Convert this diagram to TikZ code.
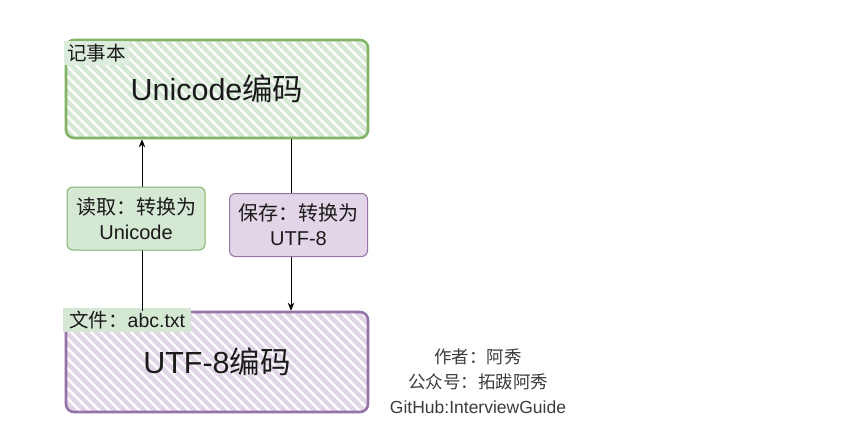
\documentclass[tikz,border=0pt]{standalone}
\usepackage{fontspec}
\setmainfont{Liberation Sans}
\newfontfamily\cjk{Noto Sans CJK SC}
\newcommand\zh[1]{{\cjk #1}}
\usetikzlibrary{arrows.meta}
\definecolor{gstroke}{HTML}{82B366}
\definecolor{gfill}{HTML}{D5E8D4}
\definecolor{pstroke}{HTML}{9673A6}
\definecolor{pfill}{HTML}{E1D5E7}
\definecolor{txt}{HTML}{1A1A1A}
\newcommand\hatchbox[5]{%
\begin{scope}
\clip[rounded corners=8pt] (#1,#2) rectangle (#3,#4);
\foreach \k in {-120,-110,...,320} \draw[#5, line width=4.5pt] (#1+\k,#2) -- ++(120,120);
\end{scope}}
\tikzset{
 mainbox/.style={draw, line width=2.6pt, rounded corners=8pt, minimum width=302pt, minimum height=98pt, text=txt, font=\fontsize{30.5}{34}\selectfont},
 tag/.style={anchor=north west, inner xsep=3pt, inner ysep=3pt, text=txt, font=\fontsize{19.5}{22}\selectfont},
 convbox/.style={draw, line width=1pt, rounded corners=6pt, minimum width=138pt, minimum height=63pt, align=center, text=txt, font=\fontsize{20}{25}\selectfont},
 conn/.style={draw=black, line width=0.9pt, -{Stealth[length=8pt,width=6.5pt]}},
 credit/.style={text=txt!85, font=\fontsize{17.5}{20}\selectfont}
}
\begin{document}
\begin{tikzpicture}[x=1pt,y=-1pt]
\useasboundingbox (0,0) rectangle (843,440);
\fill[white] (0,0) rectangle (843,440);
% hatch fills
\hatchbox{66}{40}{368}{138}{gfill}
\hatchbox{66}{312}{368}{412}{pfill}
% main boxes
\node[mainbox, draw=gstroke] (unicode) at (217,89) {Unicode\zh{编码}};
\node[mainbox, draw=pstroke, minimum height=100pt] (utf8) at (217,362) {UTF-8\zh{编码}};
% tags
\node[tag, fill=gfill!80] (notepad) at (64,41) {\zh{记事本}};
\node[tag, fill=gfill, inner xsep=6pt] (file) at (63,308) {\zh{文件：}abc.txt};
% connector anchors
\coordinate (rx) at (142,0);
\coordinate (sx) at (291,0);
\draw[conn] (utf8.north -| rx) -- (unicode.south -| rx);
\draw[conn] (unicode.south -| sx) -- (utf8.north -| sx);
% conversion labels
\node[convbox, draw=gstroke, fill=gfill] (read) at (136,218.5) {\zh{读取：转换为}\\Unicode};
\node[convbox, draw=pstroke, fill=pfill] (save) at (298.5,225) {\zh{保存：转换为}\\UTF-8};
% credits
\node[credit] (author) at (478,357) {\zh{作者：阿秀}};
\node[credit] (wechat) at (478,382) {\zh{公众号：拓跋阿秀}};
\node[credit] (github) at (478,407) {GitHub:InterviewGuide};
\end{tikzpicture}
\end{document}
